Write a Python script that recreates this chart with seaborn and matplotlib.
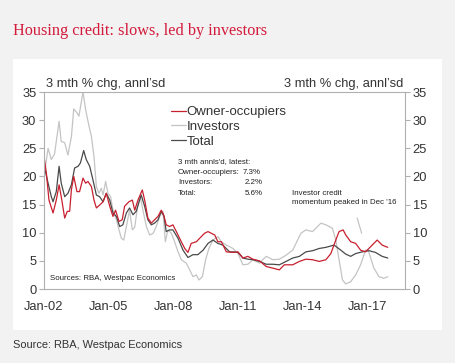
import matplotlib
matplotlib.use("Agg")
import matplotlib.pyplot as plt
from matplotlib.patches import Rectangle
import seaborn as sns
import pandas as pd

# ---------------- data (decimal years, % values) ----------------
owner_x = [2002.0, 2002.11, 2002.23, 2002.42, 2002.57, 2002.70, 2002.80, 2002.96, 2003.08, 2003.19,
           2003.27, 2003.38, 2003.53, 2003.65, 2003.81, 2003.93, 2004.04, 2004.20, 2004.32, 2004.43,
           2004.58, 2004.74, 2004.89, 2005.05, 2005.20, 2005.32, 2005.48, 2005.63, 2005.74, 2005.94,
           2006.10, 2006.21, 2006.36, 2006.56, 2006.67, 2006.82, 2006.98, 2007.13, 2007.29, 2007.44,
           2007.55, 2007.67, 2007.83, 2007.98, 2008.14, 2008.37, 2008.53, 2008.68, 2008.83, 2009.07,
           2009.22, 2009.45, 2009.61, 2009.76, 2009.92, 2010.07, 2010.23, 2010.46, 2010.77, 2011.0,
           2011.23, 2011.46, 2011.69, 2012.0, 2012.31, 2012.62, 2012.92, 2013.15, 2013.54, 2013.85,
           2014.15, 2014.46, 2014.77, 2015.08, 2015.31, 2015.54, 2015.69, 2015.88, 2016.0, 2016.23,
           2016.46, 2016.69, 2016.92, 2017.15, 2017.46, 2017.69, 2017.95]
owner_y = [23.5, 20.6, 15.8, 13.5, 15.8, 18.5, 16.4, 12.6, 13.8, 13.8,
           17.6, 20.0, 17.3, 17.3, 19.7, 18.8, 19.1, 18.2, 15.8, 14.4,
           14.9, 15.5, 17.0, 14.7, 12.9, 14.0, 12.0, 12.3, 14.7, 15.5,
           15.8, 14.0, 15.8, 17.6, 15.8, 12.6, 11.7, 12.3, 12.9, 14.0,
           13.2, 11.4, 11.1, 11.4, 10.2, 8.4, 7.2, 6.5, 8.1, 8.4,
           9.0, 9.9, 10.2, 9.9, 9.6, 8.4, 8.4, 6.6, 6.5, 6.6,
           5.5, 5.8, 5.3, 5.0, 4.0, 3.7, 3.4, 4.3, 4.3, 4.9,
           5.3, 5.2, 4.9, 5.2, 6.3, 8.7, 10.2, 10.5, 9.6, 8.4,
           8.1, 6.9, 6.6, 7.5, 8.7, 7.8, 7.4]

inv_x = [2002.0, 2002.19, 2002.34, 2002.49, 2002.70, 2002.80, 2002.96, 2003.11, 2003.27, 2003.38,
         2003.53, 2003.62, 2003.81, 2003.93, 2004.09, 2004.20, 2004.32, 2004.43, 2004.55, 2004.66,
         2004.74, 2004.86, 2004.97, 2005.09, 2005.20, 2005.36, 2005.48, 2005.59, 2005.70, 2005.82,
         2005.97, 2006.10, 2006.21, 2006.36, 2006.47, 2006.59, 2006.75, 2006.90, 2007.06, 2007.21,
         2007.37, 2007.52, 2007.63, 2007.75, 2007.91, 2008.06, 2008.22, 2008.37, 2008.60, 2008.76,
         2008.91, 2009.07, 2009.19, 2009.35, 2009.50, 2009.65, 2009.84, 2010.07, 2010.23, 2010.46,
         2010.77, 2011.0, 2011.23, 2011.46, 2011.69, 2012.0, 2012.31, 2012.62, 2012.92, 2013.23,
         2013.54, 2013.92, 2014.15, 2014.46, 2014.85, 2015.08, 2015.38, 2015.54, 2015.69, 2015.85,
         2016.0, 2016.23, 2016.46, 2016.69, 2016.92, 2017.04, 2017.31, 2017.54, 2017.77, 2017.95]
inv_y = [20.0, 25.0, 23.0, 24.0, 29.8, 26.2, 26.0, 23.8, 27.0, 32.0,
         31.3, 30.7, 35.0, 31.9, 28.9, 27.1, 23.5, 18.2, 17.0, 17.9,
         16.7, 19.1, 17.0, 16.4, 14.0, 12.3, 10.5, 9.0, 8.7, 11.1,
         14.0, 10.5, 11.0, 15.2, 16.4, 14.0, 11.1, 9.6, 9.9, 11.1,
         12.9, 13.8, 8.4, 10.5, 9.9, 8.4, 6.6, 5.2, 4.6, 3.4,
         2.2, 2.5, 1.6, 2.2, 5.2, 7.2, 8.7, 9.3, 8.4, 7.8,
         7.2, 6.3, 4.3, 4.4, 5.2, 4.6, 5.8, 5.2, 5.3, 6.0,
         6.9, 9.9, 10.5, 10.2, 11.7, 11.4, 10.8, 8.7, 5.2, 1.6,
         0.9, 1.3, 2.5, 4.3, 6.9, 6.9, 3.7, 2.2, 1.9, 2.2]

tot_x = [2002.0, 2002.19, 2002.34, 2002.42, 2002.57, 2002.70, 2002.80, 2002.96, 2003.11, 2003.27,
         2003.42, 2003.58, 2003.69, 2003.84, 2003.96, 2004.12, 2004.27, 2004.43, 2004.58, 2004.74,
         2004.89, 2005.05, 2005.20, 2005.36, 2005.51, 2005.66, 2005.82, 2005.97, 2006.13, 2006.28,
         2006.51, 2006.67, 2006.82, 2006.98, 2007.13, 2007.29, 2007.44, 2007.57, 2007.67, 2007.83,
         2007.98, 2008.22, 2008.45, 2008.68, 2008.91, 2009.14, 2009.38, 2009.61, 2009.84, 2010.07,
         2010.30, 2010.61, 2010.77, 2011.0, 2011.23, 2011.46, 2011.69, 2012.0, 2012.31, 2012.62,
         2012.92, 2013.23, 2013.54, 2013.85, 2014.15, 2014.46, 2014.77, 2015.08, 2015.46, 2015.77,
         2016.0, 2016.23, 2016.46, 2016.77, 2017.08, 2017.38, 2017.69, 2017.95]
tot_y = [22.0, 18.8, 16.4, 15.5, 17.3, 21.8, 18.8, 16.4, 17.0, 18.5,
         21.5, 21.8, 22.4, 24.6, 23.0, 21.8, 19.4, 16.7, 16.4, 15.5,
         17.0, 15.8, 13.5, 12.9, 11.1, 11.4, 13.5, 14.4, 13.2, 13.8,
         16.7, 14.7, 12.3, 11.4, 11.7, 12.3, 13.8, 12.9, 10.2, 10.5,
         10.5, 9.0, 6.9, 5.6, 6.1, 6.1, 6.9, 8.1, 8.7, 8.1,
         7.8, 6.6, 6.6, 6.5, 5.5, 5.3, 5.2, 4.9, 4.4, 4.4,
         4.3, 4.9, 5.5, 5.8, 6.6, 6.8, 7.2, 7.4, 7.8, 6.9,
         6.2, 5.8, 6.3, 6.6, 6.8, 6.5, 5.8, 5.5]

pointer_x = [2016.53, 2016.74]
pointer_y = [12.6, 9.9]

series_names = ["Owner-occupiers", "Investors", "Total"]
xtick_years = [2002, 2005, 2008, 2011, 2014, 2017]
xtick_labels = ["Jan-02", "Jan-05", "Jan-08", "Jan-11", "Jan-14", "Jan-17"]
yticks = [0, 5, 10, 15, 20, 25, 30, 35]

# ---------------- styling ----------------
sns.set_style("white")
plt.rcParams['font.family'] = ['Liberation Sans', 'DejaVu Sans']

RED = "#c8202f"
LGREY = "#c4c4c4"
DGREY = "#4a4a4a"
TXT = "#333333"
SPINE = "#b0b0b0"

fig = plt.figure(figsize=(4.56, 3.63), dpi=100)
fig.patch.set_facecolor("#f2f2f2")
W, H = 456, 363
fig.patches.append(Rectangle((13 / W, 1 - 330 / H), (442 - 13) / W, (330 - 59) / H,
                             transform=fig.transFigure, facecolor="white", edgecolor="none",
                             zorder=-10))

ax = fig.add_axes([44 / W, 1 - 289 / H, (405 - 44) / W, (289 - 92) / H])
ax.set_zorder(1)
ax.set_facecolor("white")

df_o = pd.DataFrame({"x": owner_x, "y": owner_y})
df_i = pd.DataFrame({"x": inv_x, "y": inv_y})
df_t = pd.DataFrame({"x": tot_x, "y": tot_y})

sns.lineplot(data=df_i, x="x", y="y", ax=ax, color=LGREY, lw=0.9, label=series_names[1],
             estimator=None, sort=False)
sns.lineplot(data=df_t, x="x", y="y", ax=ax, color=DGREY, lw=0.9, label=series_names[2],
             estimator=None, sort=False)
sns.lineplot(data=df_o, x="x", y="y", ax=ax, color=RED, lw=0.9, label=series_names[0],
             estimator=None, sort=False)
ax.plot(pointer_x, pointer_y, color=LGREY, lw=0.9)

ax.set_xlim(2002, 2018.75)
ax.set_ylim(0, 35)
ax.set_xlabel("")
ax.set_ylabel("")
ax.set_xticks(xtick_years)
ax.set_xticklabels(xtick_labels)
ax.set_xticks(list(range(2002, 2019)), minor=True)
ax.set_yticks(yticks)

for s in ax.spines.values():
    s.set_color(SPINE)
    s.set_linewidth(0.8)

ax.tick_params(axis="both", which="both", direction="out", color=SPINE, labelcolor=TXT,
               labelsize=9.3, length=3.5, width=0.8, pad=2)
ax.tick_params(axis="x", which="major", pad=5)

ax2 = ax.twinx()
ax2.set_ylim(0, 35)
ax2.set_yticks(yticks)
for s in ax2.spines.values():
    s.set_visible(False)
ax2.tick_params(axis="y", direction="out", color=SPINE, labelcolor=TXT, labelsize=9.3,
                length=3.5, width=0.8, pad=2)

# legend
h, l = ax.get_legend_handles_labels()
order = [l.index(n) for n in series_names]
leg = ax.legend([h[i] for i in order], [l[i] for i in order], loc="upper left",
                bbox_to_anchor=((171 - 44) / (405 - 44), 1 - (106 - 92) / (289 - 92)),
                frameon=False, fontsize=9.5, handlelength=1.1, handletextpad=0.1,
                labelspacing=0.2, borderaxespad=0, borderpad=0)
for t in leg.get_texts():
    t.set_color(TXT)

# texts
fig.text(13 / W, 1 - 31 / H, "Housing credit: slows, led by investors", color="#d31a3b",
         fontsize=11.7, family=["Liberation Serif", "DejaVu Serif"], va="center", ha="left")
fig.text(13 / W, 1 - 345 / H, "Source: RBA, Westpac Economics", color=TXT, fontsize=7.9,
         va="center", ha="left")
fig.text(46 / W, 1 - 84 / H, "3 mth % chg, annl\u2019sd", color=TXT, fontsize=9.3,
         va="center", ha="left")
fig.text(403 / W, 1 - 84 / H, "3 mth % chg, annl\u2019sd", color=TXT, fontsize=9.3,
         va="center", ha="right")

def ftext(px, py, s, ha="left", size=5.7):
    fig.text(px / W, 1 - py / H, s, color="#222222", fontsize=size, va="center", ha=ha,
             zorder=5)

ftext(178, 162, "3 mth annls'd, latest:")
ftext(178, 172.5, "Owner-occupiers:")
ftext(178, 183, "Investors:")
ftext(178, 193.5, "Total:")
ftext(261, 172.5, "7.3%", ha="right")
ftext(263, 183, "2.2%", ha="right")
ftext(263, 193.5, "5.6%", ha="right")
ftext(292.5, 193, "Investor credit")
ftext(292.5, 203, "momentum peaked in Dec '16")
ftext(50, 279, "Sources: RBA, Westpac Economics")

fig.savefig("out.png", dpi=100, facecolor=fig.get_facecolor())
